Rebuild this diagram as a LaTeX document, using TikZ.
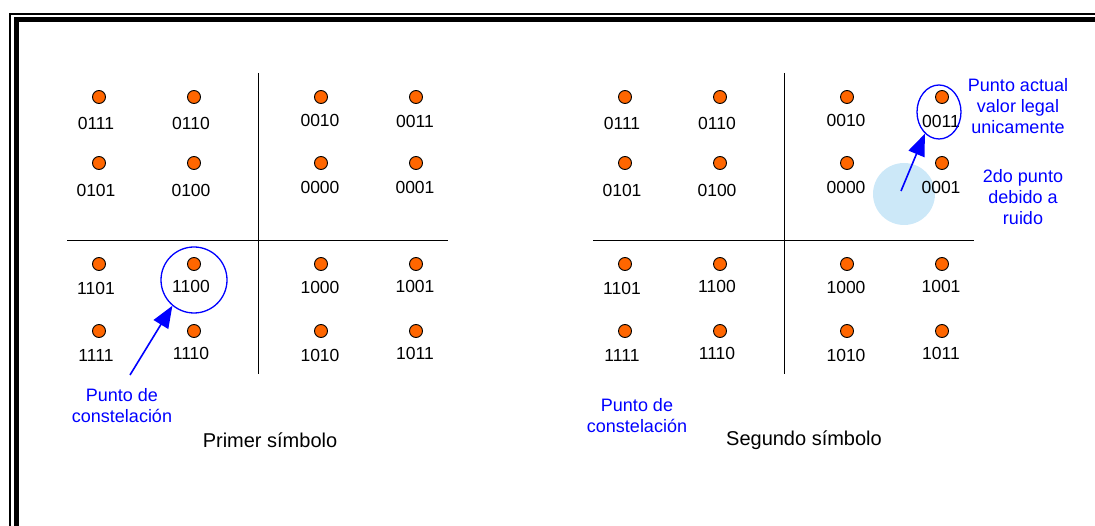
\documentclass[tikz,border=0pt]{standalone}
\usepackage{fontspec}
\setmainfont{Liberation Sans}
\usetikzlibrary{arrows.meta,shapes.geometric}
\definecolor{dotorange}{HTML}{FF6600}
\definecolor{noiseblue}{HTML}{CCE8F8}
\definecolor{txtblue}{RGB}{0,0,255}
\begin{document}
\begin{tikzpicture}[x=1pt,y=-1pt,
  cpt/.style={circle,draw=black,line width=0.9pt,fill=dotorange,minimum size=13pt,inner sep=0pt},
  lbl/.style={inner sep=0pt,font=\fontsize{17.5}{20}\selectfont},
  note/.style={inner sep=0pt,text=txtblue,align=center,font=\fontsize{18}{21}\selectfont},
  ttl/.style={inner sep=0pt,font=\fontsize{20}{24}\selectfont},
  axisline/.style={line width=1pt,black},
  ring/.style={draw=txtblue,line width=1.3pt,inner sep=0pt},
  pointer/.style={draw=txtblue,line width=1.6pt,-{Triangle[length=22pt,width=17pt]}}]

\useasboundingbox (0,0) rectangle (1095,526);

% frame
\coordinate (fa1) at (10.3,526);
\coordinate (fa2) at (10.3,13.8);
\coordinate (fa3) at (1095,13.8);
\coordinate (fb1) at (16,526);
\coordinate (fb2) at (16,19.8);
\coordinate (fb3) at (1095,19.8);
\draw[line width=2pt,miter limit=10] (fa1) -- (fa2) -- (fa3);
\draw[line width=5pt,miter limit=10] (fb1) -- (fb2) -- (fb3);

% noise region (second symbol)
\node[circle,fill=noiseblue,minimum size=62pt,inner sep=0pt] (noise) at (904,194) {};

% axes
\foreach \o/\p in {0/L,526/R}{
  \coordinate (\p vt) at (258+\o,73);
  \coordinate (\p vb) at (258+\o,374);
  \coordinate (\p hl) at (67+\o,240.5);
  \coordinate (\p hr) at (448+\o,240.5);
  \draw[axisline] (\p vt) -- (\p vb);
  \draw[axisline] (\p hl) -- (\p hr);
}

% constellation points
\foreach \o/\p in {0/L,526/R}{
  \foreach \x/\y/\t/\dx/\dy [count=\k] in {
    99/97/0111/-3/26, 194/97/0110/-3/26, 321/97/0010/-1/23, 416/97/0011/-1/24,
    99/163/0101/-3/27, 194/163/0100/-3/27, 321/163/0000/-1/24, 416/163/0001/-1/24,
    99/264/1101/-3/24, 194/264/1100/-3/22, 321/264/1000/-1/23, 416/264/1001/-1/22,
    99/331/1111/-3/24, 194/331/1110/-3/22, 321/331/1010/-1/24, 416/331/1011/-1/22}{
    \node[cpt] (\p dot\k) at (\x+\o,\y) {};
    \node[lbl] (\p lab\k) at (\x+\o+\dx,\y+\dy) {\t};
  }
}

% rings
\node[ring,circle,minimum size=66pt] (ringL) at (194,280) {};
\node[ring,ellipse,minimum width=44pt,minimum height=54pt] (ringR) at (939,112) {};

% arrows
\coordinate (tailL) at (130,375);
\draw[pointer] (tailL) -- (ringL.230);
\coordinate (tailR) at (901,191);
\draw[pointer] (tailR) -- (ringR.237);

% texts
\node[note] (cstL) at (122,406) {Punto de\\constelación};
\node[note] (cstR) at (637,416) {Punto de\\constelación};
\node[ttl] (t1) at (270,440) {Primer símbolo};
\node[ttl] (t2) at (804,440) {Segundo símbolo};
\node[note] (n1) at (1018,106) {Punto actual\\valor legal\\unicamente};
\node[note] (n2) at (1023,197) {2do punto\\debido a\\ruido};
\end{tikzpicture}
\end{document}
